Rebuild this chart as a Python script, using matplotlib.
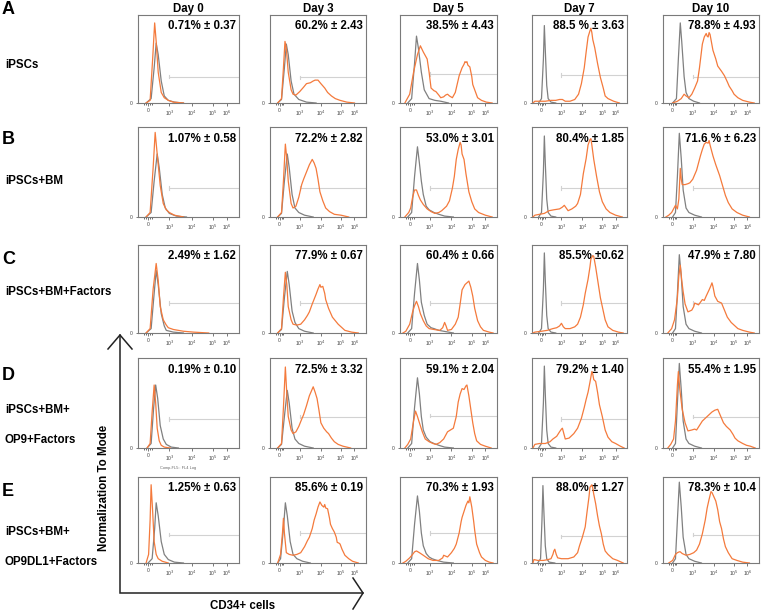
import matplotlib
matplotlib.use("Agg")
import matplotlib.pyplot as plt

plt.rcParams['font.family'] = ['Liberation Sans', 'DejaVu Sans']

days = ["Day 0", "Day 3", "Day 5", "Day 7", "Day 10"]
row_letters = ["A", "B", "C", "D", "E"]
row_labels = [["iPSCs"], ["iPSCs+BM"], ["iPSCs+BM+Factors"],
              ["iPSCs+BM+", "OP9+Factors"], ["iPSCs+BM+", "OP9DL1+Factors"]]

pct_ipsc = ["0.71% ± 0.37", "60.2% ± 2.43", "38.5% ± 4.43", "88.5 % ± 3.63", "78.8% ± 4.93"]
pct_bm = ["1.07% ± 0.58", "72.2% ± 2.82", "53.0% ± 3.01", "80.4% ± 1.85", "71.6 % ± 6.23"]
pct_bmf = ["2.49% ± 1.62", "77.9% ± 0.67", "60.4% ± 0.66", "85.5% ±0.62", "47.9% ± 7.80"]
pct_op9 = ["0.19% ± 0.10", "72.5% ± 3.32", "59.1% ± 2.04", "79.2% ± 1.40", "55.4% ± 1.95"]
pct_dl1 = ["1.25% ± 0.63", "85.6% ± 0.19", "70.3% ± 1.93", "88.0% ± 1.27", "78.3% ± 10.4"]

# biexponential channel axis, 0..100 across the plot
tick_pos = [10, 31, 53, 74, 88]
tick_labels = ["0", "10$^3$", "10$^4$", "10$^5$", "10$^6$"]

# gate (CD34+ marker) height per panel, % of mode
gate_ipsc = [30, 29, 33, 32, 30]
gate_bm = [32, 32, 32, 32, 32]
gate_bmf = [34, 34, 34, 34, 34]
gate_op9 = [32, 35, 36, 32, 35]
gate_dl1 = [33, 35, 35, 31, 33]
gate_start = 31

# histograms: (channel, % of max) ; ctrl = gray isotype, cd34 = orange
ipsc_d0_ctrl = [(8, 0), (13, 5), (16, 40), (18, 68), (20, 55), (23, 25), (26, 8), (30, 3), (36, 1), (45, 0)]
ipsc_d0_cd34 = [(8, 0), (12, 3), (14.5, 50), (16.5, 91), (18, 70), (20, 35), (23, 12), (26, 6), (30, 3), (35, 1), (45, 0)]
ipsc_d3_ctrl = [(8, 0), (12, 4), (15, 40), (17, 67), (19, 55), (22, 25), (25, 10), (30, 4), (38, 1), (48, 0)]
ipsc_d3_cd34 = [(8, 0), (12, 5), (14, 40), (15.6, 70), (17, 62), (19, 35), (22, 15), (24, 10), (27, 9), (31, 13),
                (35, 18), (38, 22), (42, 23), (45, 25), (47, 26), (50, 26), (53, 22), (57, 17), (60, 12), (64, 8),
                (68, 5), (73, 3), (80, 1), (88, 0)]
ipsc_d5_ctrl = [(8, 0), (12, 5), (15, 45), (17, 76), (19, 62), (22, 35), (25, 15), (30, 5), (36, 3), (42, 2), (50, 0)]
ipsc_d5_cd34 = [(5, 0), (10, 10), (14, 35), (18, 55), (21, 65), (24, 58), (28, 50), (30, 35), (32, 17), (35, 14),
                (37, 13), (40, 9), (42, 6), (45, 7), (47, 9), (49, 10), (51, 8), (54, 6), (57, 12), (61, 31),
                (64, 40), (66, 44), (67, 47), (68, 46), (69, 47), (70, 43), (72, 41), (74, 30), (75, 21), (78, 12),
                (80, 6), (84, 3), (89, 1), (95, 0)]
ipsc_d7_ctrl = [(7, 0), (10, 5), (12, 50), (13, 88), (14, 60), (15.5, 20), (17, 5), (20, 1), (25, 0)]
ipsc_d7_cd34 = [(1, 0), (3, 2), (8, 2), (14, 2), (20, 3), (25, 3), (29, 4), (32, 4), (35, 2), (40, 2), (45, 4),
                (49, 10), (52, 22), (55, 40), (57, 58), (59, 75), (61, 82), (62, 85), (63, 80), (64, 72), (66, 63),
                (69, 45), (72, 29), (75, 17), (77, 8), (80, 5), (86, 2), (92, 0)]
ipsc_d10_ctrl = [(10, 0), (14, 5), (16, 50), (18, 91), (19.5, 70), (22, 30), (24, 12), (27, 5), (32, 2), (38, 0)]
ipsc_d10_cd34 = [(10, 0), (15, 2), (19, 5), (22, 10), (24, 8), (27, 6), (30, 10), (33, 17), (36, 25), (38, 40),
                 (41, 67), (43, 75), (45, 79), (46, 76), (47, 75), (48, 80), (49, 78), (52, 60), (55, 50), (57, 42),
                 (61, 36), (64, 31), (67, 24), (69, 19), (72, 14), (74, 10), (78, 6), (83, 3), (90, 1), (95, 0)]

bm_d0_ctrl = [(8, 0), (13, 5), (16, 40), (19, 70), (21, 55), (24, 25), (27, 10), (31, 4), (38, 1), (48, 0)]
bm_d0_cd34 = [(8, 0), (12, 5), (15, 55), (17, 94), (19, 70), (22, 35), (25, 15), (28, 8), (31, 5), (36, 2), (45, 0)]
bm_d3_ctrl = [(8, 0), (12, 4), (15, 40), (18, 70), (20, 55), (23, 25), (26, 10), (30, 5), (36, 2), (45, 0)]
bm_d3_cd34 = [(8, 0), (12, 5), (14, 40), (16, 81), (17.5, 65), (19, 40), (22, 15), (24, 10), (27, 12), (30, 22),
              (33, 36), (35, 42), (38, 50), (41, 58), (43, 62), (44, 64), (46, 60), (48, 54), (50, 42), (52, 28),
              (55, 18), (58, 10), (62, 6), (67, 3), (74, 2), (82, 0)]
bm_d5_ctrl = [(8, 0), (12, 5), (15, 45), (18, 78), (20, 60), (22, 40), (24, 25), (27, 12), (30, 8), (35, 5),
              (40, 3), (46, 1), (55, 0)]
bm_d5_cd34 = [(5, 0), (9, 5), (11, 10), (13, 22), (15, 30), (17, 30), (19, 24), (21, 19), (24, 14), (28, 9),
              (32, 6), (36, 4), (40, 5), (43, 7), (45, 9), (48, 12), (51, 18), (54, 32), (56, 45), (58, 64),
              (60, 75), (62, 83), (63, 80), (64, 70), (66, 64), (68, 48), (71, 28), (74, 17), (77, 9), (81, 5),
              (88, 2), (95, 0)]
bm_d7_ctrl = [(7, 0), (10, 5), (12, 50), (13, 90), (14, 60), (15.5, 20), (17, 5), (20, 1), (25, 0)]
bm_d7_cd34 = [(1, 0), (3, 2), (8, 3), (13, 4), (18, 7), (23, 8), (29, 9), (32, 11), (34, 13), (36, 10), (38, 7),
              (42, 9), (46, 12), (48, 15), (51, 25), (54, 48), (57, 65), (59, 80), (61, 86), (62, 87), (63, 80),
              (65, 64), (68, 45), (71, 28), (74, 17), (78, 9), (82, 5), (88, 2), (95, 0)]
bm_d10_ctrl = [(10, 0), (13, 5), (15, 45), (17, 93), (19, 65), (21, 30), (24, 10), (27, 5), (33, 2), (40, 0)]
bm_d10_cd34 = [(3, 0), (6, 2), (9, 5), (11, 9), (13, 13), (15, 9), (16.5, 20), (18, 54), (19, 42), (20, 36),
               (23, 36), (26, 37), (28, 38), (31, 42), (35, 52), (37, 60), (39, 68), (41, 75), (43, 81), (45, 83),
               (47, 82), (48, 85), (49, 80), (52, 68), (55, 58), (59, 46), (62, 35), (65, 24), (68, 16), (72, 9),
               (77, 5), (83, 2), (90, 0)]

bmf_d0_ctrl = [(8, 0), (13, 5), (16, 45), (18, 71), (20, 55), (23, 22), (26, 8), (28, 3), (35, 1), (45, 0)]
bmf_d0_cd34 = [(8, 0), (12, 5), (15, 50), (18, 79), (20, 60), (22, 30), (25, 15), (28, 9), (30, 6), (35, 4),
               (40, 3), (45, 2), (55, 1), (70, 0)]
bmf_d3_ctrl = [(8, 0), (12, 4), (15, 40), (18, 70), (20, 55), (23, 25), (26, 12), (30, 5), (36, 2), (45, 0)]
bmf_d3_cd34 = [(8, 0), (12, 5), (14, 40), (16, 69), (17.5, 55), (19, 30), (22, 15), (24, 10), (28, 9), (32, 10),
               (36, 15), (39, 20), (41, 24), (44, 33), (48, 44), (50, 50), (52, 55), (53, 52), (55, 53), (57, 45),
               (58, 38), (61, 28), (65, 18), (68, 14), (71, 10), (75, 6), (78, 3), (85, 1), (92, 0)]
bmf_d5_ctrl = [(8, 0), (12, 5), (15, 45), (18, 79), (20, 60), (22, 35), (25, 20), (28, 10), (32, 6), (35, 5),
               (40, 3), (45, 2), (55, 0)]
bmf_d5_cd34 = [(3, 0), (6, 2), (10, 10), (13, 24), (15, 31), (17, 36), (19, 30), (21, 22), (24, 14), (27, 8),
               (30, 5), (35, 4), (41, 3), (44, 6), (46, 12), (47.5, 8), (49, 3), (53, 4), (57, 10), (60, 18),
               (62, 33), (64, 49), (67, 55), (70, 58), (71, 59), (73, 52), (75, 42), (77, 28), (80, 14), (83, 7),
               (86, 3), (92, 1), (96, 0)]
bmf_d7_ctrl = [(7, 0), (10, 5), (12, 50), (13, 91), (14, 60), (15.5, 20), (17, 5), (20, 1), (25, 0)]
bmf_d7_cd34 = [(1, 0), (3, 1), (10, 2), (16, 3), (22, 5), (26, 6), (29, 8), (31, 11), (33, 7), (35, 5), (40, 5),
               (45, 7), (48, 10), (51, 18), (54, 32), (56, 45), (59, 61), (61, 75), (62, 84), (64, 88), (65, 87),
               (67, 75), (69, 61), (72, 40), (74, 30), (77, 15), (80, 7), (85, 3), (91, 1), (96, 0)]
bmf_d10_ctrl = [(10, 0), (13, 5), (15, 45), (17, 89), (19, 65), (21, 30), (24, 10), (27, 5), (33, 2), (40, 0)]
bmf_d10_cd34 = [(5, 0), (9, 5), (12, 15), (15, 40), (16.5, 65), (18, 77), (19.5, 60), (21, 47), (23, 33), (26, 24),
                (28, 25), (30, 26), (32, 30), (33, 34), (35, 33), (37, 32), (39, 35), (41, 38), (43, 37), (45, 42),
                (48, 49), (50, 54), (51, 57), (52, 53), (54, 42), (57, 36), (61, 34), (64, 26), (67, 18), (71, 12),
                (74, 9), (78, 5), (83, 3), (90, 1), (95, 0)]

op9_d0_ctrl = [(9, 0), (13, 5), (15.5, 45), (17.5, 70), (19.5, 55), (22, 25), (25, 10), (28, 4), (33, 1), (40, 0)]
op9_d0_cd34 = [(9, 0), (12, 5), (14, 40), (16, 70), (17.5, 50), (19, 22), (21, 8), (23, 3), (26, 1), (32, 0)]
op9_d3_ctrl = [(8, 0), (12, 4), (15, 35), (18, 64), (20, 50), (23, 22), (26, 10), (30, 5), (36, 2), (45, 0)]
op9_d3_cd34 = [(8, 0), (12, 5), (14, 45), (16, 90), (17.5, 60), (19, 35), (22, 20), (24, 16), (27, 18), (30, 24),
               (33, 32), (35, 37), (38, 47), (41, 58), (43, 63), (45, 68), (47, 62), (49, 55), (51, 42), (53, 28),
               (56, 22), (59, 18), (61, 16), (64, 11), (67, 7), (71, 4), (76, 2), (84, 0)]
op9_d5_ctrl = [(8, 0), (12, 5), (15, 45), (18, 78), (20, 60), (22, 35), (24, 20), (27, 12), (31, 7), (35, 5),
               (40, 3), (46, 1), (55, 0)]
op9_d5_cd34 = [(5, 0), (8, 4), (11, 10), (14, 30), (16, 41), (18, 35), (20, 28), (23, 18), (26, 10), (30, 7),
               (34, 5), (37, 4), (41, 6), (45, 10), (47, 14), (49, 18), (52, 20), (55, 22), (58, 35), (60, 51),
               (62, 60), (64, 66), (66, 65), (68, 69), (69, 70), (71, 58), (73, 43), (75, 28), (77, 16), (79, 8),
               (83, 4), (88, 2), (94, 0)]
op9_d7_ctrl = [(7, 0), (10, 5), (12, 50), (13, 91), (14, 60), (15.5, 20), (17, 5), (20, 1), (25, 0)]
op9_d7_cd34 = [(1, 0), (3, 4), (8, 5), (14, 5), (19, 7), (22, 10), (26, 13), (29, 18), (31, 21), (32, 22),
               (33.5, 16), (35, 10), (39, 11), (44, 16), (48, 22), (52, 33), (55, 45), (57, 54), (59, 62), (61, 73),
               (63, 85), (64, 82), (65, 76), (67, 74), (69, 62), (71, 48), (74, 35), (77, 20), (80, 12), (84, 7),
               (88, 5), (93, 2), (97, 0)]
op9_d10_ctrl = [(10, 0), (13, 5), (15, 50), (17, 94), (19, 65), (21, 30), (24, 10), (27, 5), (33, 2), (40, 0)]
op9_d10_cd34 = [(5, 0), (8, 4), (11, 10), (13, 30), (15, 70), (16, 85), (17.5, 65), (20, 43), (23, 28), (26, 19),
                (30, 20), (33, 21), (35, 20), (38, 25), (41, 30), (44, 33), (48, 37), (51, 40), (54, 42), (57, 43),
                (59, 38), (61, 33), (63, 28), (66, 24), (70, 20), (73, 15), (75, 11), (78, 8), (83, 5), (87, 3),
                (91, 2), (96, 0)]

dl1_d0_ctrl = [(10, 0), (14, 5), (16.5, 40), (18, 70), (20, 55), (23, 25), (26, 10), (30, 4), (36, 1), (45, 0)]
dl1_d0_cd34 = [(8, 0), (10.5, 10), (12, 50), (13, 91), (14.5, 60), (16, 25), (18, 10), (20, 5), (24, 2), (30, 0)]
dl1_d3_ctrl = [(8, 0), (11, 5), (14, 40), (16, 70), (18, 55), (21, 25), (24, 10), (28, 5), (34, 2), (42, 0)]
dl1_d3_cd34 = [(8, 0), (11, 10), (13, 35), (14, 52), (15, 35), (17, 12), (20, 10), (24, 9), (28, 10), (32, 12),
               (36, 19), (39, 26), (41, 30), (44, 40), (46, 50), (48, 57), (50, 65), (52, 71), (54, 67), (56, 65),
               (57, 68), (58, 64), (60, 63), (62, 52), (63, 45), (65, 40), (67, 36), (69, 30), (70, 24), (72, 23),
               (73, 22), (75, 16), (78, 9), (82, 5), (86, 2), (92, 0)]
dl1_d5_ctrl = [(8, 0), (12, 5), (15, 45), (18, 78), (20, 60), (22, 35), (24, 20), (27, 11), (30, 7), (33, 5),
               (38, 3), (45, 1), (55, 0)]
dl1_d5_cd34 = [(3, 0), (6, 2), (10, 6), (13, 10), (15, 13), (17, 14), (20, 12), (24, 9), (29, 5), (34, 3), (40, 3),
               (44, 6), (45, 9), (47, 8), (49, 7), (53, 12), (56, 17), (58, 22), (61, 35), (63, 48), (64, 53),
               (66, 60), (68, 67), (70, 72), (71, 70), (72, 77), (74, 65), (76, 48), (77, 38), (79, 22), (82, 12),
               (84, 7), (88, 3), (92, 1), (96, 0)]
dl1_d7_ctrl = [(6, 0), (9, 5), (10.5, 50), (11.5, 90), (12.5, 60), (14, 20), (15.5, 5), (18, 1), (24, 0)]
dl1_d7_cd34 = [(1, 0), (2, 4), (6, 3), (12, 3), (17, 4), (20, 5), (22, 10), (23, 14), (24, 16), (25.5, 10), (27, 6),
               (31, 5), (38, 5), (44, 7), (48, 12), (50, 20), (53, 30), (56, 42), (58, 60), (60, 77), (61, 88),
               (63, 91), (64, 87), (65, 80), (67, 69), (69, 55), (71, 43), (73, 34), (75, 22), (77, 14), (80, 10),
               (85, 5), (90, 3), (96, 0)]
dl1_d10_ctrl = [(10, 0), (13, 5), (15, 50), (17, 94), (19, 65), (21, 30), (24, 10), (27, 5), (33, 2), (40, 0)]
dl1_d10_cd34 = [(6, 0), (10, 3), (13, 10), (15, 12), (17, 13), (18, 13), (20, 11), (24, 9), (28, 10), (32, 12),
                (35, 15), (38, 22), (41, 34), (44, 50), (46, 64), (48, 74), (50, 83), (51, 82), (53, 77), (55, 72),
                (57, 62), (59, 48), (61, 40), (63, 28), (65, 19), (68, 12), (72, 5), (77, 3), (83, 1), (90, 0)]

ctrl = [[ipsc_d0_ctrl, ipsc_d3_ctrl, ipsc_d5_ctrl, ipsc_d7_ctrl, ipsc_d10_ctrl],
        [bm_d0_ctrl, bm_d3_ctrl, bm_d5_ctrl, bm_d7_ctrl, bm_d10_ctrl],
        [bmf_d0_ctrl, bmf_d3_ctrl, bmf_d5_ctrl, bmf_d7_ctrl, bmf_d10_ctrl],
        [op9_d0_ctrl, op9_d3_ctrl, op9_d5_ctrl, op9_d7_ctrl, op9_d10_ctrl],
        [dl1_d0_ctrl, dl1_d3_ctrl, dl1_d5_ctrl, dl1_d7_ctrl, dl1_d10_ctrl]]
cd34 = [[ipsc_d0_cd34, ipsc_d3_cd34, ipsc_d5_cd34, ipsc_d7_cd34, ipsc_d10_cd34],
        [bm_d0_cd34, bm_d3_cd34, bm_d5_cd34, bm_d7_cd34, bm_d10_cd34],
        [bmf_d0_cd34, bmf_d3_cd34, bmf_d5_cd34, bmf_d7_cd34, bmf_d10_cd34],
        [op9_d0_cd34, op9_d3_cd34, op9_d5_cd34, op9_d7_cd34, op9_d10_cd34],
        [dl1_d0_cd34, dl1_d3_cd34, dl1_d5_cd34, dl1_d7_cd34, dl1_d10_cd34]]
pcts = [pct_ipsc, pct_bm, pct_bmf, pct_op9, pct_dl1]
gates = [gate_ipsc, gate_bm, gate_bmf, gate_op9, gate_dl1]

# layout in pixels
W, H = 778, 612
row_top = [15, 127, 245, 358, 477]
row_bot = [103, 217, 333, 448, 563]
col_left = [138, 270, 400, 532, 663]
col_right = [239, 366, 497, 627, 759]

ORANGE = '#f47a3c'
GRAY = '#808080'

fig = plt.figure(figsize=(W / 100, H / 100), dpi=100)

ov = fig.add_axes([0, 0, 1, 1])
ov.set_xlim(0, W)
ov.set_ylim(H, 0)
ov.axis('off')

for r in range(5):
    for c in range(5):
        l, rt = col_left[c], col_right[c]
        t, b = row_top[r], row_bot[r]
        ax = fig.add_axes([l / W, (H - b) / H, (rt - l) / W, (b - t) / H])
        x, y = zip(*ctrl[r][c])
        ax.plot(x, y, color=GRAY, lw=0.9, zorder=3)
        x, y = zip(*cd34[r][c])
        ax.plot(x, y, color=ORANGE, lw=0.9, zorder=4)
        g = gates[r][c]
        ax.plot([gate_start, 100], [g, g], color='#d2d2d2', lw=0.8, zorder=2)
        ax.plot([gate_start, gate_start], [g - 2, g + 2], color='#d2d2d2', lw=0.8, zorder=2)
        ax.set_xlim(0, 100)
        ax.set_ylim(0, 100)
        ax.set_xticks(tick_pos)
        ax.set_xticklabels(tick_labels, fontsize=3.6, color='#444444')
        ax.set_xticks([6, 8, 12, 14], minor=True)
        ax.set_yticks([0])
        ax.set_yticklabels(["0"], fontsize=3.6, color='#444444')
        ax.tick_params(axis='both', which='major', length=1.8, width=0.5, pad=2, colors='#444444')
        ax.tick_params(axis='x', which='minor', length=1.5, width=0.5, color='#333333')
        for s in ax.spines.values():
            s.set_color('#7a7a7a')
            s.set_linewidth(0.8)
        ax.text(0.97, 0.87, pcts[r][c], transform=ax.transAxes, ha='right', va='center',
                fontsize=8.3, fontweight='bold')

# column headers
for c in range(5):
    ov.text((col_left[c] + col_right[c]) / 2, 9, days[c], ha='center', va='center',
            fontsize=8.3, fontweight='bold')

# row letters and labels
letter_y = [10, 140, 260, 376, 492]
label_y = [[65], [181], [292], [410, 440], [532, 562]]
for r in range(5):
    ov.text(2, letter_y[r], row_letters[r], ha='left', va='center', fontsize=13, fontweight='bold')
    for txt, yy in zip(row_labels[r], label_y[r]):
        ov.text(5, yy, txt, ha='left', va='center', fontsize=8.3, fontweight='bold')

ov.text(178, 468, "Comp-FL5:: FL4 Log", ha='center', va='center', fontsize=2.8, color='#666666')

# big axes arrows
ov.plot([120, 120, 363], [335, 593, 593], color='#222222', lw=1.1, solid_joinstyle='miter')
ov.plot([108, 120, 132], [349, 335, 349], color='#222222', lw=1.1)
ov.plot([353, 363, 353], [578, 593, 609], color='#222222', lw=1.1)
ov.text(104, 488, "Normalization To Mode", rotation=90, ha='center', va='center',
        fontsize=8.3, fontweight='bold')
ov.text(243, 606, "CD34+ cells", ha='center', va='center', fontsize=8.3, fontweight='bold')

fig.savefig('out.png', dpi=100)
